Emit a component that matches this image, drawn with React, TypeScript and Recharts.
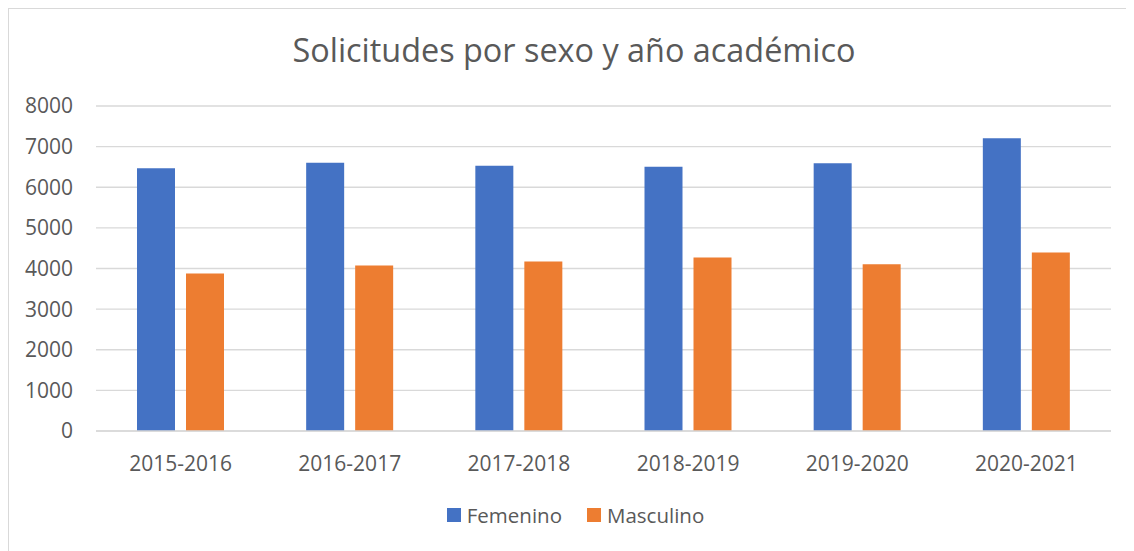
import React from "react";
import { BarChart, Bar, XAxis, YAxis, CartesianGrid, Legend } from "recharts";

const categories = ["2015-2016", "2016-2017", "2017-2018", "2018-2019", "2019-2020", "2020-2021"];
const femenino = [6467, 6605, 6531, 6506, 6590, 7207];
const masculino = [3877, 4074, 4173, 4272, 4106, 4395];
const yTicks = [0, 1000, 2000, 3000, 4000, 5000, 6000, 7000, 8000];

const data = categories.map((c, i) => ({ name: c, Femenino: femenino[i], Masculino: masculino[i] }));

const FONT = "'Open Sans', 'Noto Sans', sans-serif";
const TEXT = "#595959";

const LegendContent = (props: any) => {
  const { payload } = props;
  return (
    <div style={{ display: "flex", justifyContent: "center", alignItems: "center", fontFamily: FONT, fontSize: 20.5, color: TEXT, paddingLeft: 8 }}>
      {(payload || []).map((p: any, i: number) => (
        <div key={i} style={{ display: "flex", alignItems: "center", marginLeft: i === 0 ? 0 : 25 }}>
          <span style={{ display: "inline-block", width: 14, height: 14, background: p.color, marginRight: 6 }} />
          <span>{p.value}</span>
        </div>
      ))}
    </div>
  );
};

export default function App() {
  return (
    <div
      style={{
        position: "relative",
        width: 1125,
        height: 542,
        borderTop: "1px solid #d9d9d9",
        borderLeft: "1px solid #d9d9d9",
        background: "#fff",
        overflow: "hidden",
      }}
    >
      <div
        style={{
          position: "absolute",
          top: 18,
          left: 0,
          width: 1130,
          textAlign: "center",
          fontFamily: FONT,
          fontSize: 32.4,
          color: TEXT,
          lineHeight: "44px",
        }}
      >
        Solicitudes por sexo y año académico
      </div>
      <BarChart
        width={1125}
        height={542}
        data={data}
        margin={{ top: 97, right: 23, bottom: 52, left: 0 }}
        barSize={38}
        barGap={11}
      >
        <CartesianGrid vertical={false} stroke="#d9d9d9" strokeWidth={1.3} />
        <XAxis
          dataKey="name"
          axisLine={{ stroke: "#d9d9d9", strokeWidth: 1.3 }}
          tickLine={false}
          tickMargin={19}
          height={40}
          tick={{ fill: TEXT, fontSize: 21, fontFamily: FONT }}
        />
        <YAxis
          domain={[0, 8000]}
          ticks={yTicks}
          axisLine={false}
          tickLine={false}
          width={87}
          tickMargin={17}
          tick={{ fill: TEXT, fontSize: 21, fontFamily: FONT }}
        />
        <Legend
          verticalAlign="bottom"
          content={<LegendContent />}
          wrapperStyle={{ top: 492, left: 0, width: 1125 }}
        />
        <Bar dataKey="Femenino" fill="#4472C4" isAnimationActive={false} />
        <Bar dataKey="Masculino" fill="#ED7D31" isAnimationActive={false} />
      </BarChart>
    </div>
  );
}
